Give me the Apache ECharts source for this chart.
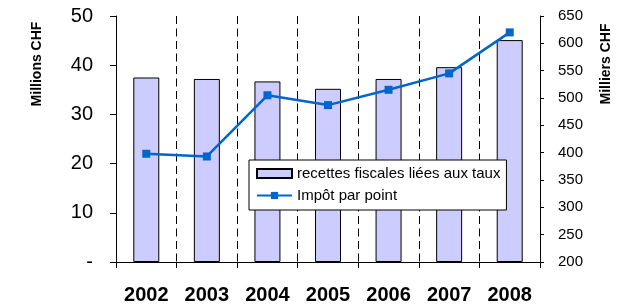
<!DOCTYPE html>
<html><head><meta charset="utf-8">
<script src="https://cdn.jsdelivr.net/npm/echarts@6/dist/echarts.min.js"></script>
<style>html,body{margin:0;padding:0;background:#fff}#c{width:621px;height:305px}</style>
</head><body><div id="c"></div>
<script>
const years = ['2002','2003','2004','2005','2006','2007','2008'];
const recettes = [37.5, 37.2, 36.7, 35.2, 37.2, 39.6, 45.1];
const impot = [398, 393, 505, 487, 515, 545, 620];
const leftTicks = [0, 50, 10];
const rightTicks = [200, 650, 50];
const FF = '"Liberation Sans", Arial, sans-serif';

const chart = echarts.init(document.getElementById('c'));
chart.setOption({
  animation: false,
  backgroundColor: '#fff',
  grid: { left: 116, right: 81, top: 16, bottom: 43 },
  legend: {
    left: 249, top: 160, orient: 'vertical',
    backgroundColor: '#fff', borderColor: '#000', borderWidth: 1,
    padding: [5, 6, 6, 7], itemGap: 5, itemWidth: 35, itemHeight: 9,
    textStyle: { fontFamily: FF, fontSize: 15, color: '#000', lineHeight: 17 },
    data: [
      { name: 'recettes fiscales liées aux taux', icon: 'rect' },
      { name: 'Impôt par point' }
    ]
  },
  xAxis: {
    type: 'category', data: years, boundaryGap: true,
    axisLine: { lineStyle: { color: '#000', width: 1 } },
    axisTick: { show: true, length: 6, inside: false, lineStyle: { color: '#000' } },
    axisLabel: { fontFamily: FF, fontSize: 20, fontWeight: 'bold', color: '#000', margin: 23 },
    splitLine: { show: true, lineStyle: { color: '#000', type: [8, 4.5], width: 1 } }
  },
  yAxis: [
    {
      type: 'value', min: leftTicks[0], max: leftTicks[1], interval: leftTicks[2],
      axisLine: { show: true, lineStyle: { color: '#000' } },
      axisTick: { show: true, length: 6, lineStyle: { color: '#000' } },
      axisLabel: { fontFamily: FF, fontSize: 20, color: '#000', margin: 23,
        formatter: v => v === 0 ? '-' : String(v) },
      splitLine: { show: false }
    },
    {
      type: 'value', position: 'right', min: rightTicks[0], max: rightTicks[1], interval: rightTicks[2],
      axisLine: { show: true, lineStyle: { color: '#000' } },
      axisTick: { show: true, length: 4, lineStyle: { color: '#000' } },
      axisLabel: { fontFamily: FF, fontSize: 15, color: '#000', margin: 18 },
      splitLine: { show: false }
    }
  ],
  graphic: [
    { type: 'text', x: 37, y: 64, rotation: Math.PI / 2,
      style: { text: 'Millions CHF', font: 'bold 14px ' + FF, fill: '#000',
        textAlign: 'center', textVerticalAlign: 'middle', align: 'center', verticalAlign: 'middle' } },
    { type: 'text', x: 606, y: 64, rotation: Math.PI / 2,
      style: { text: 'Milliers CHF', font: 'bold 14px ' + FF, fill: '#000',
        textAlign: 'center', textVerticalAlign: 'middle', align: 'center', verticalAlign: 'middle' } }
  ],
  series: [
    {
      name: 'recettes fiscales liées aux taux', type: 'bar', yAxisIndex: 0,
      data: recettes, barWidth: 26,
      itemStyle: { color: '#CCCCFF', borderColor: '#000', borderWidth: 1 }
    },
    {
      name: 'Impôt par point', type: 'line', yAxisIndex: 1, data: impot,
      symbol: 'rect', symbolSize: 8,
      lineStyle: { color: '#0066CC', width: 2.5 },
      itemStyle: { color: '#0066CC' }
    }
  ]
});
</script></body></html>
